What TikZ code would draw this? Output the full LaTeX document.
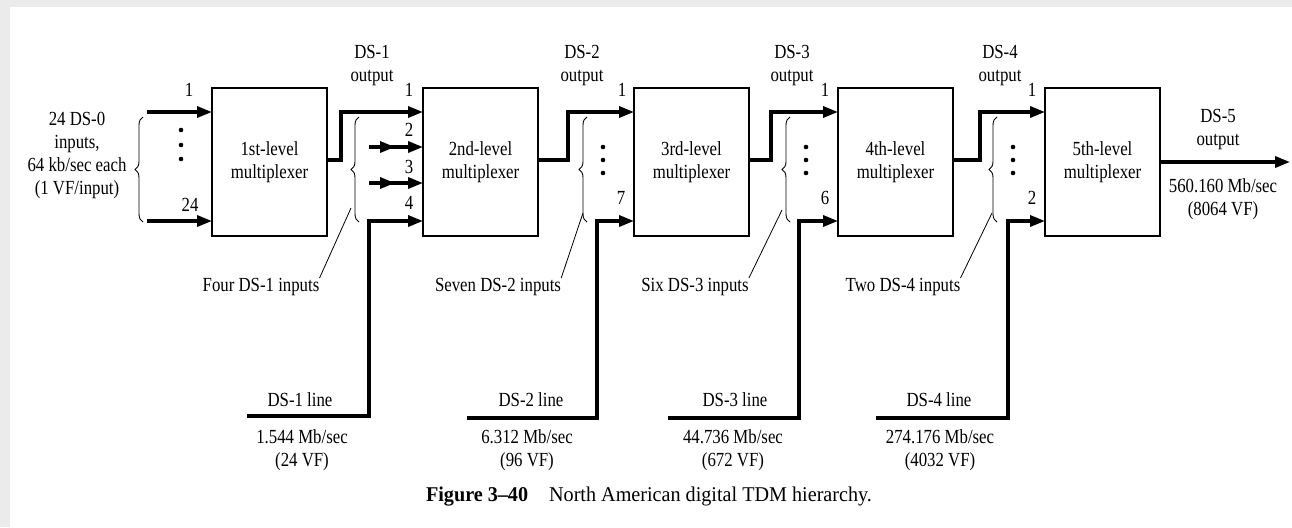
\documentclass[tikz,border=0pt]{standalone}
\usepackage{fontspec}
\setmainfont[FakeStretch=0.84]{Liberation Serif}
\newfontfamily\capfont[FakeStretch=0.96,Ligatures=TeX]{Liberation Serif}
\usetikzlibrary{arrows.meta,positioning,calc,decorations.pathreplacing}
\definecolor{pagegray}{HTML}{EBEBEB}
\tikzset{
  mux/.style  = {draw, line width=1.3pt, outer sep=0pt, inner sep=0pt,
                 minimum width=115pt, minimum height=148pt, align=center},
  sig/.style  = {line width=3.3pt, -{Triangle[length=15pt,width=11pt]}},
  lbl/.style  = {inner sep=0pt, align=center},
  brc/.style  = {decorate, decoration={brace, amplitude=8pt}, line width=0.9pt},
  lead/.style = {line width=0.8pt}
}

\begin{document}
\begin{tikzpicture}[x=1pt, y=-1pt, font=\fontsize{20}{23}\selectfont]

% page and grey frame
\useasboundingbox (0,0) rectangle (1292,527);
\fill[pagegray] (0,0) rectangle (1292,527);
\fill[white] (10,7) rectangle (1292,527);

% the five multiplexers
\node[mux] (m1) at (269.5,162) {1st-level\\multiplexer};
\node[mux] (m2) at (480.5,162) {2nd-level\\multiplexer};
\node[mux] (m3) at (691.5,162) {3rd-level\\multiplexer};
\node[mux] (m4) at (895.5,162) {4th-level\\multiplexer};
\node[mux] (m5) at (1102.5,162) {5th-level\\multiplexer};

% first and last input of every multiplexer
\foreach \m in {1,...,5} {
  \coordinate (t\m) at ($(m\m.north west)+(0,24)$);
  \coordinate (b\m) at ($(m\m.south west)+(0,-15)$);
}

% DS-0 inputs
\coordinate (s1) at (147,112);
\coordinate (s24) at (147,221);
\draw[sig] (s1) -- (t1);
\draw[sig] (s24) -- (b1);

% output of one level into input 1 of the next
\foreach \a/\b/\jx in {1/2/341, 2/3/568, 3/4/771, 4/5/980}
  \draw[sig] ($(m\a.east)+(0,-2)$) -| (\jx,112) -- (t\b);

% inputs 2 and 3 of the 2nd level
\foreach \y/\k in {147/2, 183/3} {
  \coordinate (p\k) at (369,\y);
  \coordinate (q\k) at (395,\y);
  \draw[sig] (p\k) -- (m2.west |- p\k);
  \draw[sig] (p\k) -- (q\k);
}

% DS-n lines into the last input
\coordinate (d1) at (247,416);
\coordinate (d2) at (467,418);
\coordinate (d3) at (668,418);
\coordinate (d4) at (876,418);
\foreach \d/\m/\vx in {1/2/369, 2/3/597, 3/4/799, 4/5/1008}
  \draw[sig] (d\d) -| (\vx,221) -- (b\m);

% DS-5 output
\coordinate (e5) at (1290,162);
\draw[sig] (m5.east) -- (e5);

% input numbers
\node[lbl] (l11)  at (189,90)  {1};
\node[lbl] (l124) at (190,205) {24};
\node[lbl] (l21)  at (409,90)  {1};
\node[lbl] (l22)  at (409,130) {2};
\node[lbl] (l23)  at (409,167) {3};
\node[lbl] (l24)  at (409,203) {4};
\node[lbl] (l31)  at (622,90)  {1};
\node[lbl] (l37)  at (621,198) {7};
\node[lbl] (l41)  at (825,90)  {1};
\node[lbl] (l46)  at (825,198) {6};
\node[lbl] (l51)  at (1032,90) {1};
\node[lbl] (l52)  at (1032,198) {2};

% dots
\foreach \y in {130,145,159}
  \fill (181,\y) circle (2.3);
\foreach \x in {603,806,1013}
  \foreach \y in {147,160,173}
    \fill (\x,\y) circle (2.3);

% braces
\foreach \x in {143,359,587,790,997}
  \draw[brc] (\x,222) -- (\x,117);

% brace labels
\node[lbl] (f1) at (261,287) {Four DS-1 inputs};
\node[lbl] (f2) at (498,287) {Seven DS-2 inputs};
\node[lbl] (f3) at (695,287) {Six DS-3 inputs};
\node[lbl] (f4) at (903,287) {Two DS-4 inputs};
\coordinate (k1) at (351,208);
\coordinate (k2) at (583,213);
\coordinate (k3) at (782,210);
\coordinate (k4) at (992,213);
\foreach \i in {1,...,4}
  \draw[lead] (f\i.north east) -- (k\i);

% outputs
\node[lbl] (o1) at (372,66)  {DS-1\\output};
\node[lbl] (o2) at (582,66)  {DS-2\\output};
\node[lbl] (o3) at (792,66)  {DS-3\\output};
\node[lbl] (o4) at (1000,66) {DS-4\\output};
\node[lbl] (o5) at (1218,130) {DS-5\\output};
\node[lbl] (r5) at (1223,199) {560.160 Mb/sec\\(8064 VF)};

% DS-0 inputs text
\node[lbl] (in0) at (77,155) {24 DS-0\\inputs,\\64 kb/sec each\\(1 VF/input)};

% line names and rates
\node[lbl] (dl1) at (300,400) {DS-1 line};
\node[lbl] (dl2) at (531,400) {DS-2 line};
\node[lbl] (dl3) at (735,400) {DS-3 line};
\node[lbl] (dl4) at (939,400) {DS-4 line};
\node[lbl] (dr1) at (302,450) {1.544 Mb/sec\\(24 VF)};
\node[lbl] (dr2) at (527,450) {6.312 Mb/sec\\(96 VF)};
\node[lbl] (dr3) at (733,450) {44.736 Mb/sec\\(672 VF)};
\node[lbl] (dr4) at (940,450) {274.176 Mb/sec\\(4032 VF)};

% caption
\node[lbl, font=\capfont\fontsize{21}{24}\selectfont] (cap) at (649,497)
  {\textbf{Figure 3–40}\quad North American digital TDM hierarchy.};
\end{tikzpicture}
\end{document}
